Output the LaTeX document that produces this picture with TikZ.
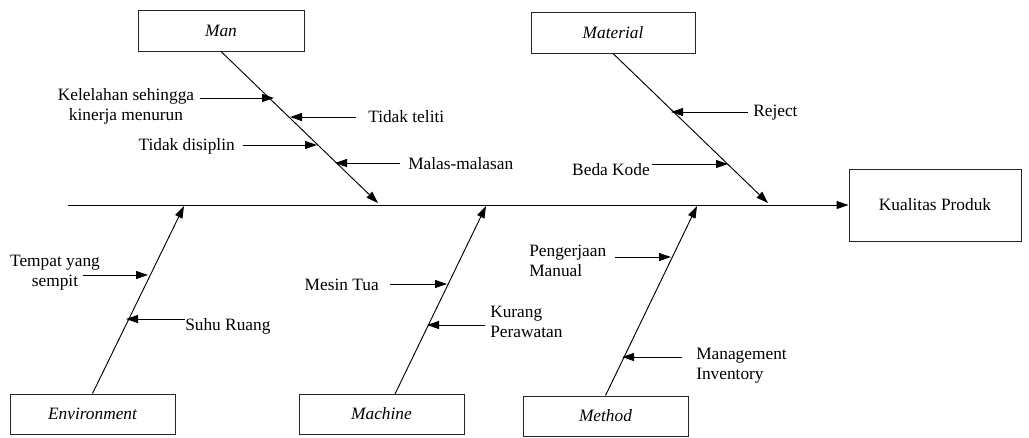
\documentclass[tikz,border=0pt]{standalone}
\usepackage{fontspec}
\setmainfont{Liberation Serif}
\usetikzlibrary{arrows.meta,calc}
\begin{document}
\begin{tikzpicture}[x=0.75pt,y=-0.75pt,
  box/.style={draw=black!85,line width=0.7pt,inner sep=0pt,font=\fontsize{13}{15}\selectfont\itshape},
  lbl/.style={inner sep=0pt,align=left,font=\fontsize{13}{15}\selectfont},
  bone/.style={line width=0.7pt,-{Triangle[length=9pt,width=6pt]}},
  sub/.style={line width=0.7pt,-{Triangle[length=9pt,width=6pt]}}]
\useasboundingbox (0,0) rectangle (1029,437);
% boxes
\node[box,minimum width=124.5pt,minimum height=30.75pt] (man) at (221,30.5) {Man};
\node[box,minimum width=123pt,minimum height=30.75pt] (material) at (613,32.5) {Material};
\node[box,font=\fontsize{13}{15}\selectfont\upshape,minimum width=129pt,minimum height=54pt] (kualitas) at (935,205) {Kualitas Produk};
\node[box,minimum width=123.75pt,minimum height=30pt] (env) at (92.5,414) {Environment};
\node[box,minimum width=123.75pt,minimum height=30pt] (machine) at (381.5,414) {Machine};
\node[box,minimum width=123.75pt,minimum height=30pt] (method) at (605.5,416) {Method};
% spine
\coordinate (spineL) at (68,205);
\draw[bone] (spineL) -- (kualitas.west);
% bone tips
\coordinate (manTip) at (378,203);
\coordinate (matTip) at (768,203);
\coordinate (envTip) at (184,206);
\coordinate (macTip) at (486,206);
\coordinate (metTip) at (697,206);
\coordinate (macStart) at (395,394);
\draw[bone] (man.south) -- (manTip);
\draw[bone] (material.south) -- (matTip);
\draw[bone] (env.north) -- (envTip);
\draw[bone] (macStart) -- (macTip);
\draw[bone] (method.north) -- (metTip);
% Man causes
\node[lbl,align=center] (t1) at (126,106) {Kelelahan sehingga\\kinerja menurun};
\coordinate (a1s) at (200,98); \coordinate (a1e) at (274,98);
\draw[sub] (a1s) -- (a1e);
\node[lbl,anchor=west] (t2) at (368,117) {Tidak teliti};
\coordinate (a2s) at (356,117); \coordinate (a2e) at (290,117);
\draw[sub] (a2s) -- (a2e);
\node[lbl,anchor=east] (t3) at (235,146) {Tidak disiplin};
\coordinate (a3s) at (243,145); \coordinate (a3e) at (317,145);
\draw[sub] (a3s) -- (a3e);
\node[lbl,anchor=west] (t4) at (408,164) {Malas-malasan};
\coordinate (a4s) at (400,163); \coordinate (a4e) at (335,163);
\draw[sub] (a4s) -- (a4e);
% Material causes
\node[lbl,anchor=west] (t5) at (753,113) {Reject};
\coordinate (a5s) at (748,112); \coordinate (a5e) at (671,112);
\draw[sub] (a5s) -- (a5e);
\node[lbl,anchor=east] (t6) at (650,170) {Beda Kode};
\coordinate (a6s) at (652,164); \coordinate (a6e) at (728,164);
\draw[sub] (a6s) -- (a6e);
% Environment causes
\node[lbl,align=center] (t7) at (55,273) {Tempat yang\\sempit};
\coordinate (a7s) at (83,275); \coordinate (a7e) at (148,275);
\draw[sub] (a7s) -- (a7e);
\node[lbl,anchor=west] (t8) at (185,326) {Suhu Ruang};
\coordinate (a8s) at (185,319); \coordinate (a8e) at (126,319);
\draw[sub] (a8s) -- (a8e);
% Machine causes
\node[lbl,anchor=east] (t9) at (379,285) {Mesin Tua};
\coordinate (a9s) at (390,284); \coordinate (a9e) at (447,284);
\draw[sub] (a9s) -- (a9e);
\node[lbl,anchor=west] (t10) at (490,322) {Kurang\\Perawatan};
\coordinate (a10s) at (485,325); \coordinate (a10e) at (427,325);
\draw[sub] (a10s) -- (a10e);
% Method causes
\node[lbl,anchor=west] (t11) at (529,261) {Pengerjaan\\Manual};
\coordinate (a11s) at (615,257); \coordinate (a11e) at (671,257);
\draw[sub] (a11s) -- (a11e);
\node[lbl,anchor=west] (t12) at (696,366) {Management\\Inventory};
\coordinate (a12s) at (682,357); \coordinate (a12e) at (622,357);
\draw[sub] (a12s) -- (a12e);
\end{tikzpicture}
\end{document}
